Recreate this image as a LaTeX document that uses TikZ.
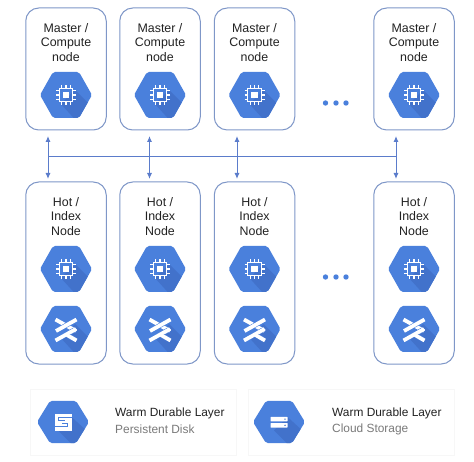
\documentclass[tikz,border=0pt]{standalone}
\usepackage{fontspec}
\setmainfont{Liberation Sans}
\usetikzlibrary{arrows.meta,shadows}
\definecolor{hexblue}{HTML}{4A80DC}
\definecolor{hexdark}{HTML}{4272CB}
\definecolor{boxline}{HTML}{7F97C8}
\definecolor{linkblue}{HTML}{5B7CCB}
\definecolor{inktext}{HTML}{222222}
\definecolor{greytext}{HTML}{7A7A7A}
\tikzset{
  x=1pt,y=-1pt,
  nodebox/.style={draw=boxline,line width=1pt,rounded corners=13pt,fill=white,inner sep=0pt,minimum width=80.5pt},
  title/.style={align=center,font=\fontsize{12.4}{14.6}\selectfont,text=inktext,inner sep=0pt},
  card/.style={draw=black!3,line width=0.8pt,fill=white,inner sep=0pt,minimum width=206pt,minimum height=66pt,
    drop shadow={shadow xshift=0pt,shadow yshift=-1.2pt,opacity=0.22,fill=black}},
  cardhead/.style={anchor=west,font=\fontsize{11.9}{14}\selectfont,text=inktext,inner sep=0pt},
  cardsub/.style={anchor=west,font=\fontsize{11.9}{14}\selectfont,text=greytext,inner sep=0pt},
  link/.style={draw=linkblue,line width=1pt},
  biarrow/.style={link,{Latex[length=6pt,width=5pt]}-{Latex[length=6pt,width=5pt]}},
  dot/.style={circle,fill=hexblue,inner sep=0pt,minimum size=5.4pt},
  whiteline/.style={draw=white,line width=1.3pt},
  pics/hexbase/.style={code={
    \begin{scope}
      \clip[rounded corners=2pt] (-26,0) -- (-13,-23) -- (13,-23) -- (26,0) -- (13,23) -- (-13,23) -- cycle;
      \fill[hexblue] (-27,-24) rectangle (27,24);
      \fill[hexdark] (-5,9) -- (9,-5) -- (30,16) -- (30,30) -- (14,30) -- cycle;
    \end{scope}
  }},
  pics/chiphex/.style={code={
    \pic {hexbase};
    \draw[whiteline] (-6.7,-6.7) rectangle (6.7,6.7);
    \fill[white] (-3.4,-3.4) rectangle (3.4,3.4);
    \foreach \t in {-4.2,0,4.2}{
      \draw[whiteline] (\t,-10) -- (\t,-6.7);
      \draw[whiteline] (\t,10) -- (\t,6.7);
      \draw[whiteline] (-10,\t) -- (-6.7,\t);
      \draw[whiteline] (10,\t) -- (6.7,\t);
    }
  }},
  band/.style={draw=white,line width=3.8pt,preaction={draw=hexblue,line width=4.8pt,shorten >=2pt,shorten <=2pt}},
  pics/crosshex/.style={code={
    \pic {hexbase};
    \draw[band] (-10.5,-9.5) -- (10,2);
    \draw[band] (10.5,-9.5) -- (-10,2);
    \draw[band] (-10.5,11.5) -- (10,0);
    \draw[band] (10.5,11.5) -- (1,6);
  }},
  slit/.style={draw=hexblue,line width=1.1pt},
  pics/diskhex/.style={code={
    \pic[yscale=.92] {hexbase};
    \fill[white] (-8.5,-8.5) rectangle (8.5,8.5);
    \draw[slit] (9,-4.6) -- (-4.2,-4.6) -- (-4.2,-1.4) -- (1.5,-1.4);
    \draw[slit] (-9,4.6) -- (4.2,4.6) -- (4.2,1.4) -- (-1.5,1.4);
  }},
  pics/storagehex/.style={code={
    \pic[yscale=.92] {hexbase};
    \fill[white,rounded corners=0.5pt] (-8.5,-5.2) rectangle (8.5,-0.6);
    \fill[white,rounded corners=0.5pt] (-8.5,1) rectangle (8.5,5.6);
    \fill[hexdark] (6,-2.9) circle (0.8pt);
    \fill[hexdark] (6,3.3) circle (0.8pt);
  }},
}
\begin{document}
\begin{tikzpicture}
\useasboundingbox (0,0) rectangle (474,462);
% upper boxes
\foreach \n/\cx in {1/66,2/160,3/254.5,4/414}{
  \node[nodebox,minimum height=122pt] (m\n) at (\cx,69) {};
  \node[title] (mt\n) at (\cx,42.5) {Master /\\Compute\\node};
  \pic at (\cx,95) {chiphex};
}
% lower boxes
\foreach \n/\cx in {1/66,2/160,3/254.5,4/414}{
  \node[nodebox,minimum height=182pt] (h\n) at (\cx,273) {};
  \node[title] (ht\n) at (\cx,216.5) {Hot /\\Index\\Node};
  \pic at (\cx,269) {chiphex};
  \pic at (\cx,329) {crosshex};
}
% ellipsis dots
\foreach \n/\x in {1/325.5,2/336,3/346}{
  \node[dot] (da\n) at (\x,103) {};
  \node[dot] (db\n) at (\x,277) {};
}
% connectors
\foreach \n/\x in {1/48,2/149.5,3/237,4/396}{
  \coordinate (up\n) at (\x,136);
  \coordinate (dn\n) at (\x,179);
  \draw[biarrow] (up\n) -- (dn\n);
  \coordinate (bus\n) at (\x,156.5);
}
\draw[link] (bus1) -- (bus4);
% cards
\node[card] (c1) at (133,422) {};
\node[card] (c2) at (351,422) {};
\pic at (63,422) {diskhex};
\pic at (279,422) {storagehex};
\node[cardhead] (c1a) at (115,413) {Warm Durable Layer};
\node[cardsub] (c1b) at (115,429.5) {Persistent Disk};
\node[cardhead] (c2a) at (332,413) {Warm Durable Layer};
\node[cardsub] (c2b) at (332,429.5) {Cloud Storage};
\end{tikzpicture}
\end{document}
